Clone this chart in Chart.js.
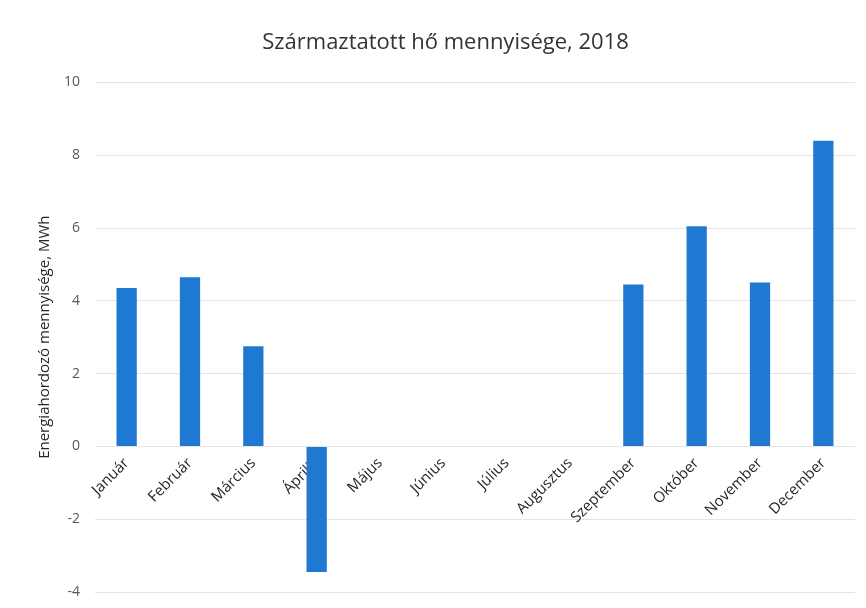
<!DOCTYPE html>
<html>
<head>
<meta charset="utf-8">
<script src="https://cdn.jsdelivr.net/npm/chart.js@4"></script>
<style>
  body { margin: 0; background: #fff; }
  #wrap { width: 866px; height: 608px; position: relative; }
</style>
</head>
<body>
<div id="wrap"><canvas id="heatChart"></canvas></div>
<script>
const months = ['Január', 'Február', 'Március', 'Április', 'Május', 'Június',
    'Július', 'Augusztus', 'Szeptember', 'Október', 'November', 'December'];
const heatMWh = [4.35, 4.65, 2.75, -3.45, 0, 0, 0, 0, 4.45, 6.05, 4.5, 8.4];
const yMin = -4;
const yMax = 10;
const yStep = 2;

const ctx = document.getElementById('heatChart').getContext('2d');

const chart = new Chart(ctx, {
    type: 'bar',
    data: {
        labels: months,
        datasets: [{
            label: 'Származtatott hő',
            data: heatMWh,
            backgroundColor: '#1f78d1',
            borderWidth: 0,
            barPercentage: 0.32,
            categoryPercentage: 1.0
        }]
    },
    options: {
        animation: false,
        responsive: true,
        maintainAspectRatio: false,
        layout: {
            padding: { top: 30, left: 36, right: 11, bottom: 16 }
        },
        plugins: {
            legend: { display: false },
            tooltip: { enabled: false },
            title: {
                display: true,
                text: 'Származtatott hő mennyisége, 2018',
                color: '#333333',
                font: { family: 'Open Sans', size: 22, weight: 'normal' },
                padding: { top: 0, bottom: 26 }
            }
        },
        scales: {
            x: {
                position: { y: 0 },
                grid: { display: false },
                border: { display: false },
                ticks: {
                    color: '#262626',
                    font: { family: 'Open Sans', size: 15 },
                    minRotation: 45,
                    maxRotation: 45,
                    padding: 0
                }
            },
            y: {
                min: yMin,
                max: yMax,
                grid: { color: '#e4e4e4', tickColor: 'transparent', tickLength: 10 },
                border: { display: false },
                ticks: {
                    stepSize: yStep,
                    color: '#595959',
                    padding: 5,
                    font: { family: 'Open Sans', size: 14 }
                },
                title: {
                    display: true,
                    text: 'Energiahordozó mennyisége, MWh',
                    color: '#262626',
                    font: { family: 'Open Sans', size: 15 },
                    padding: { top: 0, bottom: 0 }
                },
                // fixed axis width so the plot starts where the original does
                afterFit: (scale) => { scale.width = 59; }
            }
        }
    }
});
</script>
</body>
</html>
